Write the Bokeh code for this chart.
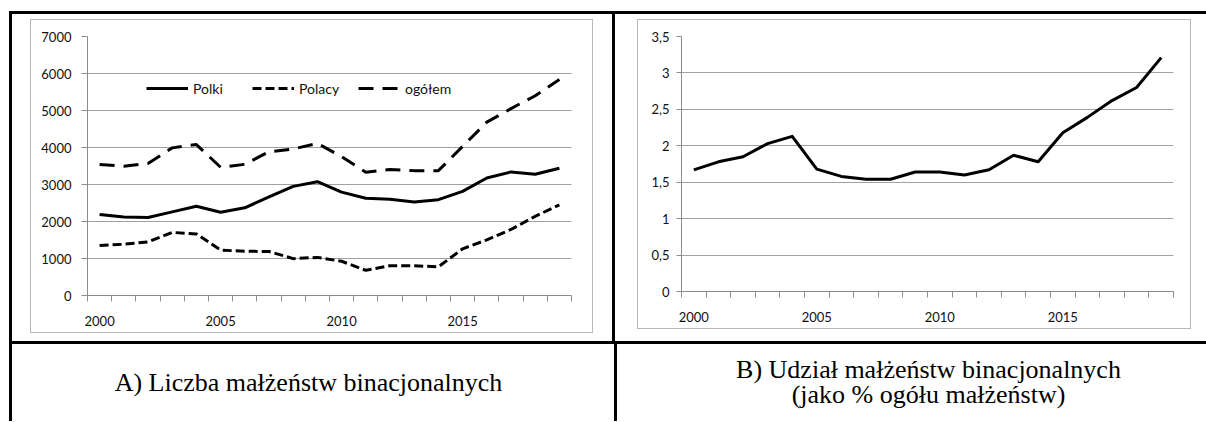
from bokeh.plotting import figure
from bokeh.layouts import row, column
from bokeh.models import (Range1d, FixedTicker, Label, Legend, LegendItem,
                          CustomJSTickFormatter, Div)
from bokeh.embed import file_html
from bokeh.resources import INLINE

# ---------------- data ----------------
years = list(range(2000, 2020))
polki = [2190, 2120, 2110, 2260, 2410, 2250, 2370, 2665, 2950, 3075,
         2795, 2630, 2600, 2530, 2590, 2815, 3175, 3340, 3275, 3440]
polacy = [1350, 1385, 1450, 1705, 1665, 1228, 1195, 1190, 995, 1030,
          925, 680, 805, 805, 775, 1262, 1505, 1785, 2140, 2450]
ogolem = [3540, 3495, 3570, 3990, 4080, 3465, 3545, 3885, 3960, 4110,
          3755, 3330, 3405, 3375, 3375, 4030, 4685, 5050, 5400, 5840]
udzial = [1.67, 1.78, 1.85, 2.03, 2.13, 1.68, 1.58, 1.54, 1.54, 1.64,
          1.64, 1.60, 1.67, 1.87, 1.78, 2.18, 2.39, 2.62, 2.80, 3.21]

y_ticks_a = [0, 1000, 2000, 3000, 4000, 5000, 6000, 7000]
y_ticks_b = [0, 0.5, 1, 1.5, 2, 2.5, 3, 3.5]
x_label_years = [2000, 2005, 2010, 2015]
legend_labels = ["Polki", "Polacy", "ogółem"]
caption_a = "A) Liczba małżeństw binacjonalnych"
caption_b = ["B) Udział małżeństw binacjonalnych", "(jako % ogółu małżeństw)"]

# ---------------- styles ----------------
FONT = "Lato"
SERIF = "Liberation Serif"
GRID = "#a0a0a0"
AXIS = "#8c8c8c"
BOXC = "#b8b8b8"
CAP_SIZE = "26px"


def make_fig(width, height, left, right, top, bottom, ymax, yticks,
             tick_out, standoff, margin):
    p = figure(width=width, height=height,
               x_range=Range1d(years[0] - 0.5, years[-1] + 0.5),
               y_range=Range1d(0, ymax),
               output_backend="svg", toolbar_location=None,
               min_border_left=left, min_border_right=right,
               min_border_top=top, min_border_bottom=bottom,
               margin=margin,
               styles={"border": "1px solid " + BOXC})
    p.outline_line_color = None
    p.background_fill_color = "white"
    p.border_fill_color = "white"
    p.xgrid.visible = False
    yt = FixedTicker(ticks=yticks)
    p.yaxis.ticker = yt
    p.ygrid.ticker = yt
    p.ygrid.grid_line_color = GRID
    p.ygrid.grid_line_width = 1
    xt = FixedTicker(ticks=x_label_years,
                     minor_ticks=[y - 0.5 for y in years] + [years[-1] + 0.5])
    p.xaxis.ticker = xt
    for ax in (p.xaxis[0], p.yaxis[0]):
        ax.axis_line_color = AXIS
        ax.axis_line_width = 1
        ax.major_tick_line_color = AXIS
        ax.minor_tick_line_color = AXIS
        ax.major_label_text_font = FONT
        ax.major_label_text_font_size = "13px"
        ax.major_label_text_color = "#111111"
    p.xaxis.major_tick_out = 0
    p.xaxis.major_tick_in = 0
    p.xaxis.minor_tick_out = 6
    p.xaxis.minor_tick_in = 0
    p.xaxis.major_label_standoff = 14
    p.yaxis.major_tick_out = tick_out
    p.yaxis.major_tick_in = 0
    p.yaxis.minor_tick_out = 0
    p.yaxis.minor_tick_in = 0
    p.yaxis.major_label_standoff = standoff
    return p


def bar(w, h, margin=(0, 0, 0, 0)):
    return Div(text="", width=w, height=h, margin=margin,
               styles={"background-color": "black"})


def caption_fig(width, height, texts, xs, ys):
    c = figure(width=width, height=height, x_range=Range1d(0, width),
               y_range=Range1d(height, 0), x_axis_type=None, y_axis_type=None,
               min_border=0, toolbar_location=None, output_backend="svg")
    c.outline_line_color = None
    c.grid.visible = False
    c.background_fill_color = "white"
    c.border_fill_color = "white"
    for t, x, y in zip(texts, xs, ys):
        c.add_layout(Label(x=x, y=y, text=t, text_font=SERIF,
                           text_font_size=CAP_SIZE, text_align="center",
                           text_baseline="middle", text_color="black"))
    return c


# ---------------- chart A ----------------
pa = make_fig(563, 314, 56, 23, 15, 37, 7000, y_ticks_a, 6, 10,
              margin=(5, 19, 0, 18))
ra = pa.line(years, polki, line_color="black", line_width=3, line_join="round")
rb = pa.line(years, polacy, line_color="black", line_width=3, line_dash="9 4")
rc = pa.line(years, ogolem, line_color="black", line_width=3, line_dash="15 9")
legend = Legend(items=[LegendItem(label=legend_labels[0], renderers=[ra]),
                       LegendItem(label=legend_labels[1], renderers=[rb]),
                       LegendItem(label=legend_labels[2], renderers=[rc])],
                orientation="horizontal", location=(59, 197),
                padding=0, margin=0, spacing=0,
                glyph_width=42, glyph_height=20, label_width=59,
                label_standoff=5, label_height=20,
                border_line_color=None, background_fill_alpha=0,
                label_text_font=FONT, label_text_font_size="14px",
                label_text_color="#111111")
pa.add_layout(legend)

# ---------------- chart B ----------------
pb = make_fig(554, 310, 43, 19, 16, 39, 3.5, y_ticks_b, 5, 7,
              margin=(5, 0, 0, 22))
pb.yaxis.formatter = CustomJSTickFormatter(
    code="return tick.toString().replace('.', ',');")
pb.line(years, udzial, line_color="black", line_width=3, line_join="round")

# ---------------- table ----------------
ROW1_H = 327
ROW2_H = 77
cap_a = caption_fig(602, ROW2_H, [caption_a], [296], [38])
cap_b = caption_fig(589, ROW2_H, caption_b, [311, 311], [25, 50])

top_line = bar(1197, 3, margin=(11, 0, 0, 9))
row1 = row(bar(3, ROW1_H, margin=(0, 0, 0, 9)), pa, bar(3, ROW1_H), pb)
mid_line = bar(1197, 3, margin=(0, 0, 0, 9))
row2 = row(bar(3, ROW2_H, margin=(0, 0, 0, 9)), cap_a, bar(3, ROW2_H), cap_b)

layout = column(top_line, row1, mid_line, row2, spacing=0)
open("out.html", "w").write(file_html(layout, INLINE))
